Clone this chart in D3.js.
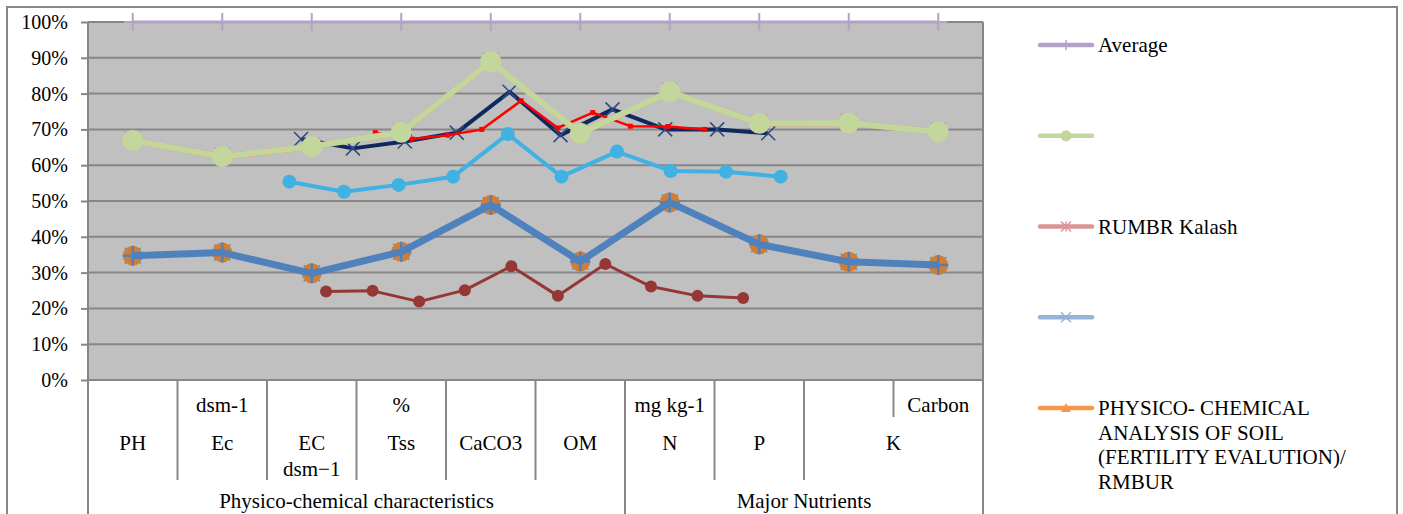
<!DOCTYPE html>
<html lang="en">
<head>
<meta charset="UTF-8" />
<title>Physico-chemical analysis of soil</title>
<script src="https://d3js.org/d3.v7.min.js"></script>
<style>
  body { margin: 0; background: #fff; }
  svg text { font-family: "Liberation Serif", "Times New Roman", serif; fill: #000; }
  .y-axis text { font-size: 20px; }
  .cat-label { font-size: 21px; text-anchor: middle; }
  .legend-text { font-size: 21px; }
</style>
</head>
<body>
<div id="chart"></div>
<script>
// Category axis (three levels)
const unitLabels = ["", "dsm-1", "", "%", "", "", "mg kg-1", "", "", "Carbon"];
const paramLabels = [
  { lines: ["PH"], from: 1, to: 1 },
  { lines: ["Ec"], from: 2, to: 2 },
  { lines: ["EC", "dsm\u22121"], from: 3, to: 3 },
  { lines: ["Tss"], from: 4, to: 4 },
  { lines: ["CaCO3"], from: 5, to: 5 },
  { lines: ["OM"], from: 6, to: 6 },
  { lines: ["N"], from: 7, to: 7 },
  { lines: ["P"], from: 8, to: 8 },
  { lines: ["K"], from: 9, to: 10 }
];
const groupLabels = [
  { name: "Physico-chemical characteristics", from: 1, to: 6 },
  { name: "Major Nutrients", from: 7, to: 10 }
];
const yTicks = [0, 10, 20, 30, 40, 50, 60, 70, 80, 90, 100];

// Series drawn on the category centres (1..10)
const catIndex = [1, 2, 3, 4, 5, 6, 7, 8, 9, 10];
const averageVals = [100, 100, 100, 100, 100, 100, 100, 100, 100, 100];
const greenVals = [66.9, 62.4, 65.2, 69.2, 88.9, 68.9, 80.5, 71.7, 71.8, 69.3];
const kalashVals = [67.2, 62.7, 65.5, 69.5, 89.2, 69.2, 80.8, 72.0, 72.1, 69.6];
const physicoVals = [66.6, 62.1, 64.9, 68.9, 88.6, 68.6, 80.2, 71.4, 71.5, 69.0];
const bottomVals = [34.7, 35.6, 29.8, 35.8, 48.9, 33.1, 49.6, 37.9, 33.0, 32.1];

// Series drawn at their own positions (in category units)
const navyPos = [2.88, 3.46, 4.04, 4.62, 5.21, 5.78, 6.36, 6.95, 7.53, 8.10];
const navyVals = [67.3, 64.7, 66.6, 69.1, 80.5, 68.4, 75.6, 70.0, 70.0, 68.9];
const redPos = [3.71, 4.12, 4.52, 4.90, 5.34, 5.75, 6.14, 6.56, 6.98, 7.39];
const redVals = [69.1, 67.3, 68.4, 70.0, 78.0, 70.4, 74.7, 70.9, 70.8, 70.0];
const cyanPos = [2.75, 3.36, 3.97, 4.58, 5.19, 5.79, 6.41, 7.01, 7.63, 8.24];
const cyanVals = [55.4, 52.6, 54.5, 56.8, 68.7, 56.8, 63.8, 58.4, 58.2, 56.8];
const maroonPos = [3.16, 3.68, 4.20, 4.71, 5.23, 5.75, 6.28, 6.79, 7.31, 7.82];
const maroonVals = [24.7, 24.9, 21.9, 25.1, 31.8, 23.5, 32.4, 26.1, 23.5, 22.9];

// Legend
const legendNames = [
  ["Average"],
  [""],
  ["RUMBR Kalash"],
  [""],
  ["PHYSICO- CHEMICAL", "ANALYSIS OF SOIL", "(FERTILITY EVALUTION)/", "RMBUR"]
];
const legendColors = ["#b3a2c7", "#c3d69b", "#d99694", "#95b3d7", "#f79646"];
const legendMarkers = ["plus", "circle", "asterisk", "x", "triangle"];

const W = 1403, H = 514;
const plot = { left: 88, right: 983, top: 22, bottom: 380 };
const gridColor = "#878787";

const svg = d3.select("#chart").append("svg")
  .attr("width", W).attr("height", H);

// outer chart border
svg.append("rect")
  .attr("x", 7).attr("y", 7)
  .attr("width", 1390).attr("height", 540)
  .attr("fill", "#fff")
  .attr("stroke", gridColor).attr("stroke-width", 2);

const x = d3.scaleLinear().domain([0.5, 10.5]).range([plot.left, plot.right]);
const y = d3.scaleLinear().domain([0, 100]).range([plot.bottom, plot.top]);

// plot background
svg.append("rect")
  .attr("x", plot.left).attr("y", plot.top)
  .attr("width", plot.right - plot.left).attr("height", plot.bottom - plot.top)
  .attr("fill", "#c0c0c0");

// gridlines
svg.append("g").selectAll("line")
  .data(yTicks)
  .join("line")
  .attr("x1", plot.left).attr("x2", plot.right)
  .attr("y1", d => y(d)).attr("y2", d => y(d))
  .attr("stroke", gridColor).attr("stroke-width", 2);

// right edge of plot
svg.append("line")
  .attr("x1", plot.right).attr("x2", plot.right)
  .attr("y1", plot.top).attr("y2", H + 10)
  .attr("stroke", gridColor).attr("stroke-width", 2);

// y axis
const yAxis = svg.append("g")
  .attr("class", "y-axis")
  .attr("transform", `translate(${plot.left},0)`)
  .call(d3.axisLeft(y).tickValues(yTicks).tickFormat(d => d + "%").tickSize(7).tickPadding(13));
yAxis.select(".domain").remove();
yAxis.selectAll(".tick line").attr("stroke", gridColor).attr("stroke-width", 2);
yAxis.append("line")
  .attr("x1", 0).attr("x2", 0)
  .attr("y1", plot.top).attr("y2", H + 10)
  .attr("stroke", gridColor).attr("stroke-width", 2);

// category axis
const row1 = 417, row2 = 480;
const catAxis = svg.append("g");
// level 1 dividers (every boundary)
catAxis.selectAll(".div1")
  .data(d3.range(1, 10))
  .join("line")
  .attr("x1", d => x(d + 0.5)).attr("x2", d => x(d + 0.5))
  .attr("y1", plot.bottom).attr("y2", row1)
  .attr("stroke", gridColor).attr("stroke-width", 2);
// level 2 dividers
catAxis.selectAll(".div2")
  .data(paramLabels.slice(0, -1))
  .join("line")
  .attr("x1", d => x(d.to + 0.5)).attr("x2", d => x(d.to + 0.5))
  .attr("y1", row1).attr("y2", row2)
  .attr("stroke", gridColor).attr("stroke-width", 2);
// level 3 dividers
catAxis.selectAll(".div3")
  .data(groupLabels.slice(0, -1))
  .join("line")
  .attr("x1", d => x(d.to + 0.5)).attr("x2", d => x(d.to + 0.5))
  .attr("y1", row2).attr("y2", H + 10)
  .attr("stroke", gridColor).attr("stroke-width", 2);

catAxis.selectAll(".unit")
  .data(unitLabels)
  .join("text")
  .attr("class", "cat-label")
  .attr("x", (d, i) => x(i + 1))
  .attr("y", 412)
  .text(d => d);

paramLabels.forEach(p => {
  p.lines.forEach((line, j) => {
    catAxis.append("text")
      .attr("class", "cat-label")
      .attr("x", x((p.from + p.to) / 2))
      .attr("y", 450 + j * 26)
      .text(line);
  });
});

catAxis.selectAll(".group")
  .data(groupLabels)
  .join("text")
  .attr("class", "cat-label")
  .attr("x", d => x((d.from + d.to) / 2))
  .attr("y", 508)
  .text(d => d.name);

// marker drawing
function marker(g, type, cx, cy, s, color, sw) {
  if (type === "circle") {
    g.append("circle").attr("cx", cx).attr("cy", cy).attr("r", s).attr("fill", color);
  } else if (type === "square") {
    g.append("rect").attr("x", cx - s).attr("y", cy - s).attr("width", 2 * s).attr("height", 2 * s).attr("fill", color);
  } else if (type === "triangle") {
    g.append("path")
      .attr("d", `M${cx},${cy - s}L${cx + s},${cy + s * 0.8}L${cx - s},${cy + s * 0.8}Z`)
      .attr("fill", color);
  } else {
    let d = "";
    if (type === "plus" || type === "asterisk") d += `M${cx},${cy - s}V${cy + s}M${cx - s},${cy}H${cx + s}`;
    if (type === "x" || type === "asterisk") d += `M${cx - s},${cy - s}L${cx + s},${cy + s}M${cx - s},${cy + s}L${cx + s},${cy - s}`;
    g.append("path").attr("d", d).attr("fill", "none").attr("stroke", color).attr("stroke-width", sw);
  }
}

function series(pos, vals, opt) {
  const g = svg.append("g");
  const pts = pos.map((p, i) => [x(p), y(vals[i])]);
  if (opt.lineWidth) {
    g.append("path")
      .datum(pts)
      .attr("d", d3.line())
      .attr("fill", "none")
      .attr("stroke", opt.lineColor || opt.color)
      .attr("stroke-width", opt.lineWidth)
      .attr("stroke-linejoin", "round");
  }
  if (opt.marker) pts.forEach(p => marker(g, opt.marker, p[0], p[1], opt.size, opt.markerColor || opt.color, opt.markerWidth || 1.5));
}

// Average along the top
series(catIndex, averageVals, { color: "#b3a2c7", lineWidth: 3, marker: "plus", size: 9, markerWidth: 2 });

// bottom group
series(catIndex, bottomVals, { color: "#3aa0b8", marker: "x", size: 8, markerWidth: 1.5 });
series(catIndex, bottomVals, { color: "#d27d36", marker: "circle", size: 10 });
series(catIndex, bottomVals, { color: "#4f81bd", lineWidth: 7, marker: "plus", size: 10, markerWidth: 2.5 });

// maroon and cyan
series(maroonPos, maroonVals, { color: "#953735", lineWidth: 3, marker: "circle", size: 6 });
series(cyanPos, cyanVals, { color: "#3fb1e3", lineWidth: 4, marker: "circle", size: 7 });

// top group (hidden mostly under green)
series(catIndex, physicoVals, { color: "#f79646", lineWidth: 4, marker: "triangle", size: 8 });
series(catIndex, kalashVals, { color: "#d99694", lineWidth: 4, marker: "asterisk", size: 8, markerWidth: 1.5 });
series(navyPos, navyVals, { color: "#10295c", lineWidth: 4, marker: "x", size: 7, markerColor: "#2e4a7e", markerWidth: 1.5 });
series(redPos, redVals, { color: "#ff0000", lineWidth: 2.5, marker: "square", size: 2.5 });
series(catIndex, greenVals, { color: "#c3d69b", lineWidth: 6, marker: "circle", size: 10.5 });

// legend
const ly = d3.scalePoint().domain(d3.range(legendNames.length)).range([45, 408]);
const legend = svg.append("g");
legendNames.forEach((lines, i) => {
  const cy = ly(i);
  legend.append("line")
    .attr("x1", 1040).attr("x2", 1092)
    .attr("y1", cy).attr("y2", cy)
    .attr("stroke", legendColors[i]).attr("stroke-width", 4.5)
    .attr("stroke-linecap", "round");
  marker(legend, legendMarkers[i], 1066, cy, legendMarkers[i] === "circle" ? 5.5 : 5, legendColors[i], 1.5);
  lines.forEach((t, j) => {
    legend.append("text")
      .attr("class", "legend-text")
      .attr("x", 1098)
      .attr("y", cy + 7 + j * 24.5)
      .text(t);
  });
});
</script>
</body>
</html>
